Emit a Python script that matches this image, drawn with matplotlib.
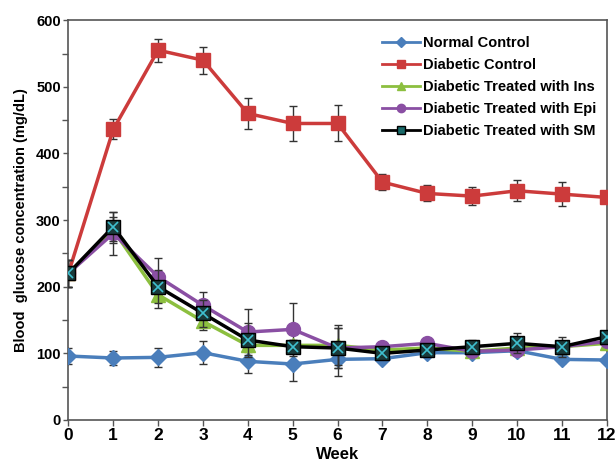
import matplotlib.pyplot as plt
from matplotlib.lines import Line2D
import numpy as np

# blood glucose by week
weeks = np.arange(0, 13)

normal = [96, 93, 94, 101, 88, 84, 91, 92, 101, 101, 104, 91, 90]
normal_err = [12, 11, 14, 17, 18, 25, 25, 5, 5, 5, 5, 5, 5]

diab = [220, 436, 555, 540, 460, 445, 445, 357, 340, 336, 344, 339, 334]
diab_err = [20, 15, 17, 20, 23, 26, 27, 12, 12, 14, 16, 18, 0]

ins = [220, 285, 188, 148, 112, 112, 112, 105, 108, 103, 108, 110, 115]
ins_err = [20, 20, 20, 13, 10, 8, 30, 5, 5, 5, 10, 5, 5]

epi = [220, 280, 215, 172, 132, 136, 108, 110, 115, 103, 105, 110, 118]
epi_err = [20, 32, 28, 20, 35, 40, 30, 5, 5, 5, 5, 5, 5]

sm = [220, 290, 200, 160, 120, 110, 108, 100, 105, 110, 115, 110, 125]
sm_err = [20, 22, 25, 20, 25, 10, 30, 5, 5, 10, 15, 15, 5]

labels = ["Normal Control", "Diabetic Control", "Diabetic Treated with Ins",
          "Diabetic Treated with Epi", "Diabetic Treated with SM"]
colors = ['#4a7ebb', '#cc3b3b', '#8cbf3f', '#8a4fa3', 'black']
markers = ['D', 's', '^', 'o', 's']

plt.rcParams['font.family'] = ['Liberation Sans', 'DejaVu Sans']
plt.rcParams['font.weight'] = 'bold'

fig = plt.figure(figsize=(6.16, 4.59), dpi=100)
ax = fig.add_axes([0.111, 0.085, 0.874, 0.871])

eb = dict(ecolor='#333333', elinewidth=1, capsize=3, capthick=1)

ax.errorbar(weeks, normal, yerr=normal_err, color=colors[0], marker='D', ms=8,
            lw=2.5, zorder=3, **eb)
ax.errorbar(weeks, diab, yerr=diab_err, color=colors[1], marker='s', ms=10,
            lw=2.5, zorder=3, **eb)
ax.errorbar(weeks, ins, yerr=ins_err, color=colors[2], marker='^', ms=10,
            lw=2.5, zorder=4, **eb)
ax.errorbar(weeks, epi, yerr=epi_err, color=colors[3], marker='o', ms=10,
            lw=2.5, zorder=4, **eb)
ax.errorbar(weeks, sm, yerr=sm_err, color=colors[4], marker='s', ms=10,
            mfc='#1a3a3a', mec='black', lw=2.5, zorder=5, **eb)
ax.plot(weeks, sm, ls='none', marker='x', ms=7, mew=1.2, color='#3fc0d0', zorder=6)

ax.set_xlim(0, 12)
ax.set_ylim(0, 600)
ax.set_xticks(weeks)
ax.set_yticks(np.arange(0, 601, 100))
ax.set_yticks(np.arange(50, 600, 100), minor=True)
ax.tick_params(axis='y', labelsize=10.5, width=1, color='#555555', pad=2)
ax.tick_params(axis='x', labelsize=12.5, direction='out', length=4, width=1,
               color='#555555', pad=2)
ax.tick_params(axis='y', which='minor', length=4, width=1, color='#555555')
for s in ax.spines.values():
    s.set_color('#555555')
    s.set_linewidth(1.2)

ax.set_xlabel("Week", fontsize=12, fontweight='bold', labelpad=3)
ax.set_ylabel("Blood  glucose concentration (mg/dL)", fontsize=10.5,
              fontweight='bold', labelpad=6)

handles = []
for c, m in zip(colors, markers):
    mfc = '#1a6a6a' if c == 'black' else c
    handles.append(Line2D([], [], color=c, marker=m, ms=6 if m != 'D' else 5,
                          mfc=mfc, lw=2))
ax.legend(handles, labels, loc='upper right', frameon=False, fontsize=10.5,
          handlelength=2.6, handletextpad=0.2, labelspacing=0.55,
          borderaxespad=0.3, bbox_to_anchor=(1.0, 0.985))

fig.savefig("out.png", dpi=100)
